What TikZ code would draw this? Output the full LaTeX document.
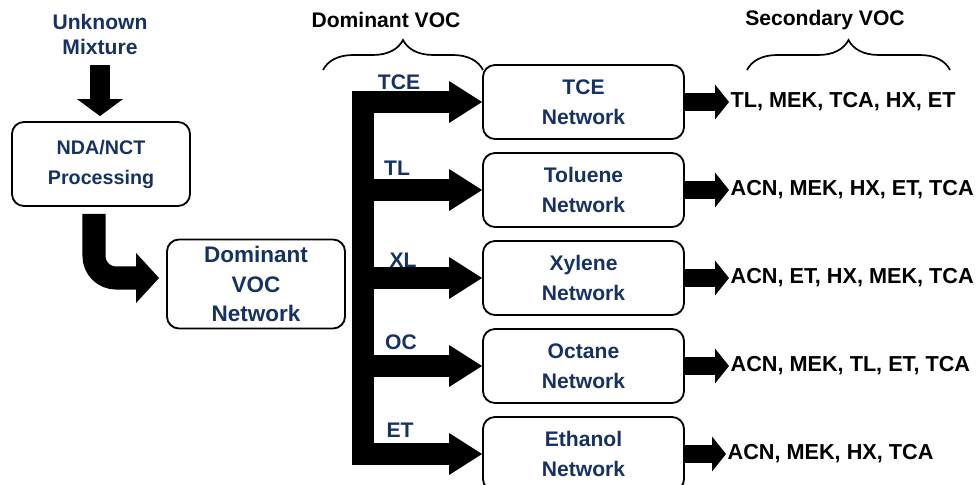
\documentclass[tikz,border=0pt]{standalone}
\usepackage{fontspec}
\setmainfont{Liberation Sans}
\usetikzlibrary{arrows.meta, calc, decorations.pathreplacing}
\definecolor{vocblue}{RGB}{22,50,98}

\begin{document}
\begin{tikzpicture}[x=0.025cm, y=-0.025cm]
	\tikzstyle{stage}=[rectangle, draw, rounded corners=0.3cm, line width=1.3pt,
	text=vocblue, align=center, font=\bfseries\fontsize{15}{21.3}\selectfont]
	\tikzstyle{network}=[stage, minimum width=5.025cm, minimum height=1.85cm]
	\tikzstyle{voc}=[text=vocblue, align=center, font=\bfseries\fontsize{15}{17.8}\selectfont]
	\tikzstyle{header}=[font=\bfseries\fontsize{15}{18}\selectfont]
	\tikzstyle{secondary}=[anchor=west, inner sep=1pt, font=\bfseries\fontsize{15.4}{18}\selectfont]
	\tikzstyle{feed}=[line width=0.5cm, -{Triangle[length=0.425cm, width=1.15cm, line width=0pt]}]
	\tikzstyle{elbow}=[line width=0.575cm, rounded corners=0.55cm,
	-{Triangle[length=0.575cm, width=1.25cm, line width=0pt]}]
	\tikzstyle{branch}=[line width=0.55cm, >={Triangle[length=0.825cm, width=1.05cm, line width=0pt]}, ->]
	\tikzstyle{trunk}=[branch, <->, line join=miter]
	\tikzstyle{output}=[line width=0.45cm, -{Triangle[length=0.35cm, width=0.875cm, line width=0pt]}]
	\tikzstyle{group}=[decorate, decoration={brace, amplitude=0.75cm}, line width=1.2pt]

	\useasboundingbox (0,0) rectangle (976,485);

	\node[voc] at (100,34) (mix) {Unknown\\Mixture};
	\node[stage, font=\bfseries\fontsize{14}{21.3}\selectfont, minimum width=4.45cm, minimum height=2.1cm] at (101,164) (nda) {NDA/NCT\\Processing};
	\node[stage, font=\bfseries\fontsize{16}{21.3}\selectfont, inner ysep=0pt, minimum width=4.45cm, minimum height=2.225cm] at (256,284) (dom) {Dominant\\VOC\\Network};

	\node[network] at (583.5,102) (tce) {TCE\\Network};
	\node[network] at (583.5,190) (toluene) {Toluene\\Network};
	\node[network] at (583.5,278) (xylene) {Xylene\\Network};
	\node[network] at (583.5,366) (octane) {Octane\\Network};
	\node[network] at (583.5,454) (ethanol) {Ethanol\\Network};

	\draw[feed, shorten <=0.15cm, shorten >=0.125cm] (mix.south) -- (mix.south |- nda.north);
	\draw[elbow] ($(nda.south)+(-7,7)$) |- ($(dom.west)+(-7,-6)$);

	% dominant VOC selector
	\coordinate (bus) at (363,0);
	\draw[trunk] (tce.west) -- (bus |- tce.west) -- (bus |- ethanol.west) -- (ethanol.west);
	\draw[branch] (bus |- toluene.west) -- (toluene.west);
	\draw[branch] (bus |- xylene.west) -- (xylene.west);
	\draw[branch] (bus |- octane.west) -- (octane.west);

	\node[voc] at (399,82) (lbltce) {TCE};
	\node[voc] at (397,168) (lbltl) {TL};
	\node[voc] at (403,260) (lblxl) {XL};
	\node[voc] at (401,342) (lbloc) {OC};
	\node[voc] at (400,430) (lblet) {ET};

	% secondary VOC lists
	\node[secondary] at (729,102) (sectce) {TL, MEK, TCA, HX, ET};
	\node[secondary] at (729,190) (sectl) {ACN, MEK, HX, ET, TCA};
	\node[secondary] at (729,278) (secxl) {ACN, ET, HX, MEK, TCA};
	\node[secondary] at (729,366) (secoc) {ACN, MEK, TL, ET, TCA};
	\node[secondary] at (726,454) (secet) {ACN, MEK, HX, TCA};

	\draw[output] (tce.east) -- (sectce.west);
	\draw[output] (toluene.east) -- (sectl.west);
	\draw[output] (xylene.east) -- (secxl.west);
	\draw[output] (octane.east) -- (secoc.west);
	\draw[output] (ethanol.east) -- (secet.west);

	\node[header] at (386,20) (domhead) {Dominant VOC};
	\node[header] at (825,20) (sechead) {Secondary VOC};
	\draw[group] (323,70) -- (483,70);
	\draw[group] (747,70) -- (950,70);

\end{tikzpicture}
\end{document}
